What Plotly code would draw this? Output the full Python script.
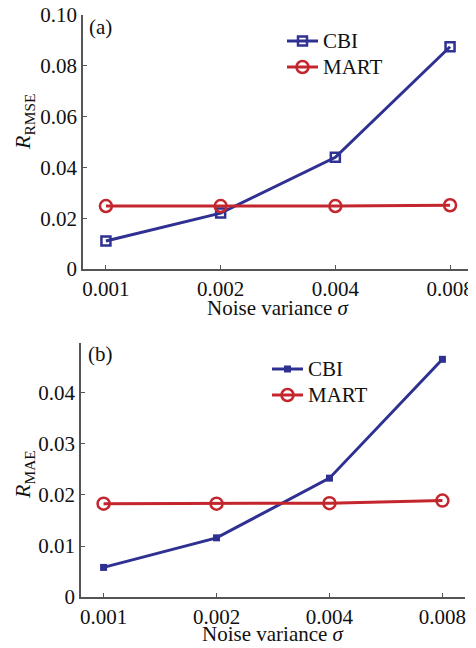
import plotly.graph_objects as go

categories = ["0.001", "0.002", "0.004", "0.008"]
rmse_cbi = [0.011, 0.022, 0.044, 0.0875]
rmse_mart = [0.0248, 0.0248, 0.0248, 0.0251]
mae_cbi = [0.0058, 0.0116, 0.0233, 0.0466]
mae_mart = [0.0183, 0.0183, 0.0184, 0.0189]
rmse_ticks = [0, 0.02, 0.04, 0.06, 0.08, 0.10]
rmse_ticktext = ["0", "0.02", "0.04", "0.06", "0.08", "0.10"]
mae_ticks = [0, 0.01, 0.02, 0.03, 0.04]
mae_ticktext = ["0", "0.01", "0.02", "0.03", "0.04"]

BLUE = "#2e3192"
RED = "#c4262e"
AX = "#555555"
FONT = "Liberation Serif"
OFF = 8  # page body margin
W, H = 476 - OFF, 648 - OFF

def px_x(a, b):
    return [(a - OFF) / W, (b - OFF) / W]

def px_y(top, bottom):
    return [1 - (bottom - OFF) / H, 1 - (top - OFF) / H]

fig = go.Figure()

open_sq = dict(symbol="square-open", size=9, color=BLUE, line=dict(width=2.5, color=BLUE))
filled_sq = dict(symbol="square", size=7, color=BLUE)
open_circ = dict(symbol="circle-open", size=12, color=RED, line=dict(width=2.5, color=RED))

# Panel (a)
fig.add_trace(go.Scatter(x=categories, y=rmse_cbi, mode="lines+markers", name="CBI",
                         line=dict(color=BLUE, width=3), marker=open_sq,
                         xaxis="x", yaxis="y", showlegend=False))
fig.add_trace(go.Scatter(x=categories, y=rmse_mart, mode="lines+markers", name="MART",
                         line=dict(color=RED, width=3), marker=open_circ,
                         xaxis="x", yaxis="y", showlegend=False))
# Panel (b)
fig.add_trace(go.Scatter(x=categories, y=mae_cbi, mode="lines+markers", name="CBI",
                         line=dict(color=BLUE, width=3), marker=filled_sq,
                         xaxis="x2", yaxis="y2", showlegend=False))
fig.add_trace(go.Scatter(x=categories, y=mae_mart, mode="lines+markers", name="MART",
                         line=dict(color=RED, width=3), marker=open_circ,
                         xaxis="x2", yaxis="y2", showlegend=False))

# Legend samples
for xa, ya, cbi_marker in [("x3", "y3", open_sq), ("x4", "y4", filled_sq)]:
    fig.add_trace(go.Scatter(x=[0, 1], y=[1, 1], mode="lines", line=dict(color=BLUE, width=3),
                             xaxis=xa, yaxis=ya, showlegend=False, hoverinfo="skip"))
    fig.add_trace(go.Scatter(x=[0.5], y=[1], mode="markers", marker=cbi_marker,
                             xaxis=xa, yaxis=ya, showlegend=False, hoverinfo="skip"))
    fig.add_trace(go.Scatter(x=[0, 1], y=[0, 0], mode="lines", line=dict(color=RED, width=3),
                             xaxis=xa, yaxis=ya, showlegend=False, hoverinfo="skip"))
    fig.add_trace(go.Scatter(x=[0.5], y=[0], mode="markers", marker=open_circ,
                             xaxis=xa, yaxis=ya, showlegend=False, hoverinfo="skip"))

tickfont = dict(family=FONT, size=21, color="#111111")
common_x = dict(type="category", range=[-0.2, 3.2], showline=True, linecolor=AX, linewidth=1.5,
                ticks="inside", ticklen=4, tickcolor=AX, tickfont=tickfont, showgrid=False,
                zeroline=False, mirror=False, fixedrange=True, automargin=False,
                ticklabeloverflow="allow")
common_y = dict(showline=True, linecolor=AX, linewidth=1.5, ticks="inside", ticklen=4,
                tickcolor=AX, tickfont=tickfont, showgrid=False, zeroline=False,
                fixedrange=True, automargin=False, ticklabeloverflow="allow")

fig.update_layout(
    width=W, height=H,
    margin=dict(l=0, r=0, t=0, b=0, pad=0, autoexpand=False),
    paper_bgcolor="white", plot_bgcolor="white",
    font=dict(family=FONT, color="#111111"),
    showlegend=False,
    xaxis=dict(common_x, domain=px_x(83, 473), anchor="y"),
    yaxis=dict(common_y, domain=px_y(15, 269), anchor="x", range=[0, 0.1],
               tickvals=rmse_ticks, ticktext=rmse_ticktext),
    xaxis2=dict(common_x, domain=px_x(81, 465), anchor="y2"),
    yaxis2=dict(common_y, domain=px_y(343, 597), anchor="x2", range=[0, 0.0498],
                tickvals=mae_ticks, ticktext=mae_ticktext),
    xaxis3=dict(domain=px_x(287, 318), range=[0, 1], visible=False, anchor="y3", fixedrange=True),
    yaxis3=dict(domain=px_y(28, 80), range=[-0.5, 1.5], visible=False, anchor="x3", fixedrange=True),
    xaxis4=dict(domain=px_x(272, 303), range=[0, 1], visible=False, anchor="y4", fixedrange=True),
    yaxis4=dict(domain=px_y(356, 408), range=[-0.5, 1.5], visible=False, anchor="x4", fixedrange=True),
)

def ann(text, x, y, size=21, xanchor="center", yanchor="middle", angle=0):
    fig.add_annotation(text=text, x=(x - OFF) / W, y=1 - (y - OFF) / H, xref="paper", yref="paper",
                       showarrow=False, xanchor=xanchor, yanchor=yanchor, textangle=angle,
                       font=dict(family=FONT, size=size, color="#111111"))

# x titles
ann("Noise variance <i>σ</i>", 278, 308)
ann("Noise variance <i>σ</i>", 273, 634)
# y titles
ann("<i>R</i><sub>RMSE</sub>", 24, 122, size=22, angle=-90)
ann("<i>R</i><sub>MAE</sub>", 24, 475, size=22, angle=-90)
# panel labels
ann("(a)", 87, 27, xanchor="left")
ann("(b)", 86, 354, xanchor="left")
# legend labels
ann("CBI", 321, 41, xanchor="left")
ann("MART", 321, 67, xanchor="left")
ann("CBI", 306, 369, xanchor="left")
ann("MART", 306, 395, xanchor="left")

fig.write_html("out.html")
